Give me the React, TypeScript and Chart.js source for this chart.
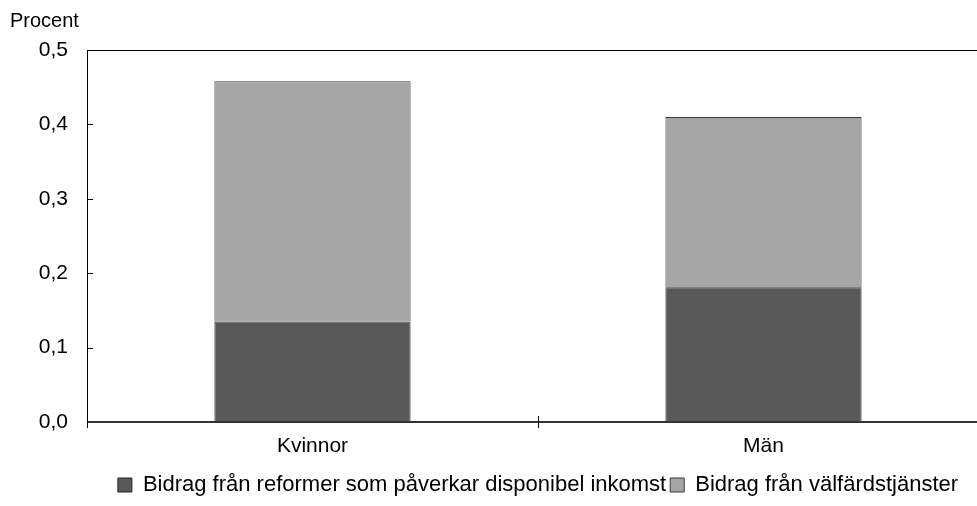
import React, { useEffect, useRef } from "react";
import { Chart, registerables } from "chart.js";

Chart.register(...registerables);

const categories = ["Kvinnor", "Män"];
const reformer = [0.135, 0.181];
const valfard = [0.323, 0.229];
const seriesNames = [
  "Bidrag från reformer som påverkar disponibel inkomst",
  "Bidrag från välfärdstjänster",
];
const yTicks = [0, 0.1, 0.2, 0.3, 0.4, 0.5];
const FONT = "'Liberation Sans', Arial, sans-serif";

const framePlugin = {
  id: "frame",
  afterDatasetsDraw(chart: any) {
    const { ctx, chartArea } = chart;
    const y = chart.scales.y;
    const x = chart.scales.x;
    ctx.save();
    ctx.strokeStyle = "#000";
    ctx.lineWidth = 1;
    ctx.beginPath();
    ctx.moveTo(chartArea.left + 0.5, chartArea.top);
    ctx.lineTo(chartArea.left + 0.5, chartArea.bottom);
    ctx.stroke();
    ctx.beginPath();
    ctx.moveTo(chartArea.left, chartArea.top + 0.5);
    ctx.lineTo(chartArea.right, chartArea.top + 0.5);
    ctx.stroke();
    yTicks.forEach((v) => {
      const py = Math.round(y.getPixelForValue(v)) + 0.5;
      ctx.beginPath();
      ctx.moveTo(chartArea.left, py);
      ctx.lineTo(chartArea.left + 6, py);
      ctx.stroke();
    });
    ctx.strokeStyle = "#333";
    ctx.lineWidth = 2;
    ctx.beginPath();
    ctx.moveTo(chartArea.left, chartArea.bottom);
    ctx.lineTo(chartArea.right, chartArea.bottom);
    ctx.stroke();
    ctx.strokeStyle = "#000";
    ctx.lineWidth = 1;
    const p0 = x.getPixelForValue(0);
    const p1 = x.getPixelForValue(1);
    const mid = Math.round((p0 + p1) / 2) + 0.5;
    ctx.beginPath();
    ctx.moveTo(mid, chartArea.bottom - 6);
    ctx.lineTo(mid, chartArea.bottom + 6);
    ctx.stroke();
    ctx.beginPath();
    ctx.moveTo(chartArea.left + 0.5, chartArea.bottom);
    ctx.lineTo(chartArea.left + 0.5, chartArea.bottom + 6);
    ctx.stroke();
    ctx.restore();
  },
};

export default function App() {
  const ref = useRef<HTMLCanvasElement>(null);
  useEffect(() => {
    if (!ref.current) return;
    const chart = new Chart(ref.current, {
      type: "bar",
      data: {
        labels: categories,
        datasets: [
          {
            label: seriesNames[0],
            data: reformer,
            backgroundColor: "#595959",
            borderColor: "#262626",
            borderWidth: 1,
            barPercentage: 0.435,
            categoryPercentage: 1,
          },
          {
            label: seriesNames[1],
            data: valfard,
            backgroundColor: "#A6A6A6",
            borderColor: "#3a3a3a",
            borderWidth: 1,
            barPercentage: 0.435,
            categoryPercentage: 1,
          },
        ],
      },
      options: {
        responsive: false,
        animation: false,
        layout: { padding: { left: 10, right: 11, top: 0, bottom: 0 } },
        plugins: {
          title: {
            display: true,
            text: "Procent",
            align: "start",
            color: "#000",
            font: { family: FONT, size: 20, weight: "normal" },
            padding: { top: 9, bottom: 17 },
          },
          legend: {
            position: "bottom",
            fullSize: false,
            labels: {
              boxWidth: 14,
              boxHeight: 14,
              color: "#000",
              padding: 4,
              font: { family: FONT, size: 22 },
            },
          },
          tooltip: { enabled: false },
        },
        scales: {
          x: {
            stacked: true,
            grid: { display: false },
            border: { display: false },
            ticks: { color: "#000", padding: 4, font: { family: FONT, size: 21 } },
            afterFit: (s: any) => {
              s.height = 48;
            },
          },
          y: {
            stacked: true,
            min: 0,
            max: 0.5,
            grid: { display: false },
            border: { display: false },
            ticks: {
              stepSize: 0.1,
              color: "#000",
              padding: 11,
              font: { family: FONT, size: 21 },
              callback: (v: any) => Number(v).toFixed(1).replace(".", ","),
            },
            afterFit: (s: any) => {
              s.width = 77;
            },
          },
        },
      },
      plugins: [framePlugin],
    } as any);
    return () => chart.destroy();
  }, []);
  return (
    <div
      style={{
        position: "absolute",
        left: 0,
        top: 0,
        width: 977,
        height: 506,
        overflow: "hidden",
        background: "#fff",
      }}
    >
      <canvas ref={ref} width={1000} height={506} style={{ width: 1000, height: 506 }} />
    </div>
  );
}
